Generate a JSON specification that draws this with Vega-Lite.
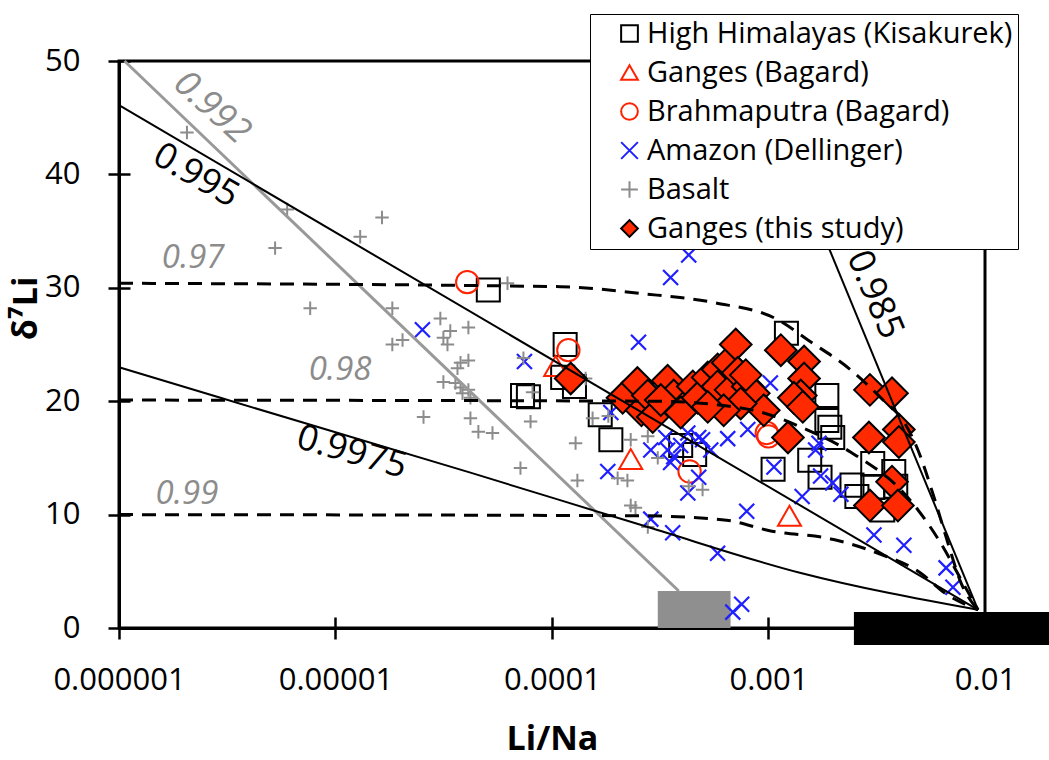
{
  "$schema": "https://vega.github.io/schema/vega-lite/v6.json",
  "width": 866,
  "height": 567,
  "autosize": "none",
  "padding": {"left": 119, "top": 61, "right": 64, "bottom": 132},
  "background": "white",
  "config": {
    "font": "Open Sans",
    "view": {"stroke": "black", "strokeWidth": 3},
    "axis": {
      "domainColor": "black", "domainWidth": 3, "tickColor": "black", "tickWidth": 2.5,
      "labelColor": "black", "titleColor": "black", "grid": false,
      "labelFont": "Open Sans", "labelFontSize": 31, "titleFont": "Open Sans",
      "titleFontSize": 34, "titleFontWeight": "bold", "labelFlush": false, "labelOverlap": false
    }
  },
  "datasets": {
    "pts": [
      {"s": "High Himalayas (Kisakurek)", "x": 5.08e-5, "y": 29.8},
      {"s": "High Himalayas (Kisakurek)", "x": 1.15e-4, "y": 25.0},
      {"s": "High Himalayas (Kisakurek)", "x": 1.12e-4, "y": 22.1},
      {"s": "High Himalayas (Kisakurek)", "x": 1.27e-4, "y": 21.3},
      {"s": "High Himalayas (Kisakurek)", "x": 7.78e-5, "y": 20.4},
      {"s": "High Himalayas (Kisakurek)", "x": 7.31e-5, "y": 20.5},
      {"s": "High Himalayas (Kisakurek)", "x": 1.67e-4, "y": 18.8},
      {"s": "High Himalayas (Kisakurek)", "x": 1.87e-4, "y": 16.6},
      {"s": "High Himalayas (Kisakurek)", "x": 3.93e-4, "y": 16.1},
      {"s": "High Himalayas (Kisakurek)", "x": 4.56e-4, "y": 15.3},
      {"s": "High Himalayas (Kisakurek)", "x": 1.05e-3, "y": 14.0},
      {"s": "High Himalayas (Kisakurek)", "x": 1.21e-3, "y": 26.0},
      {"s": "High Himalayas (Kisakurek)", "x": 1.86e-3, "y": 20.5},
      {"s": "High Himalayas (Kisakurek)", "x": 1.86e-3, "y": 18.3},
      {"s": "High Himalayas (Kisakurek)", "x": 1.92e-3, "y": 17.7},
      {"s": "High Himalayas (Kisakurek)", "x": 1.98e-3, "y": 16.8},
      {"s": "High Himalayas (Kisakurek)", "x": 1.55e-3, "y": 14.8},
      {"s": "High Himalayas (Kisakurek)", "x": 1.73e-3, "y": 13.3},
      {"s": "High Himalayas (Kisakurek)", "x": 2.43e-3, "y": 12.6},
      {"s": "High Himalayas (Kisakurek)", "x": 2.56e-3, "y": 11.6},
      {"s": "High Himalayas (Kisakurek)", "x": 3.03e-3, "y": 14.5},
      {"s": "High Himalayas (Kisakurek)", "x": 3.79e-3, "y": 13.8},
      {"s": "High Himalayas (Kisakurek)", "x": 3.03e-3, "y": 12.4},
      {"s": "High Himalayas (Kisakurek)", "x": 3.37e-3, "y": 10.4},
      {"s": "High Himalayas (Kisakurek)", "x": 3.87e-3, "y": 12.5},
      {"s": "Ganges (Bagard)", "x": 1.04e-4, "y": 23.1},
      {"s": "Ganges (Bagard)", "x": 2.31e-4, "y": 14.9},
      {"s": "Ganges (Bagard)", "x": 1.25e-3, "y": 9.9},
      {"s": "Brahmaputra (Bagard)", "x": 4.06e-5, "y": 30.5},
      {"s": "Brahmaputra (Bagard)", "x": 1.19e-4, "y": 24.5},
      {"s": "Brahmaputra (Bagard)", "x": 4.32e-4, "y": 13.8},
      {"s": "Brahmaputra (Bagard)", "x": 9.82e-4, "y": 17.2},
      {"s": "Brahmaputra (Bagard)", "x": 1.0e-3, "y": 16.9},
      {"s": "Amazon (Dellinger)", "x": 2.52e-5, "y": 26.3},
      {"s": "Amazon (Dellinger)", "x": 7.46e-5, "y": 23.5},
      {"s": "Amazon (Dellinger)", "x": 2.51e-4, "y": 25.2},
      {"s": "Amazon (Dellinger)", "x": 3.53e-4, "y": 30.9},
      {"s": "Amazon (Dellinger)", "x": 4.28e-4, "y": 32.9},
      {"s": "Amazon (Dellinger)", "x": 1.87e-4, "y": 19.0},
      {"s": "Amazon (Dellinger)", "x": 1.81e-4, "y": 13.8},
      {"s": "Amazon (Dellinger)", "x": 2.86e-4, "y": 15.7},
      {"s": "Amazon (Dellinger)", "x": 3.35e-4, "y": 16.8},
      {"s": "Amazon (Dellinger)", "x": 3.42e-4, "y": 15.7},
      {"s": "Amazon (Dellinger)", "x": 3.65e-4, "y": 15.1},
      {"s": "Amazon (Dellinger)", "x": 3.93e-4, "y": 16.1},
      {"s": "Amazon (Dellinger)", "x": 3.53e-4, "y": 14.6},
      {"s": "Amazon (Dellinger)", "x": 4.24e-4, "y": 17.2},
      {"s": "Amazon (Dellinger)", "x": 4.76e-4, "y": 16.8},
      {"s": "Amazon (Dellinger)", "x": 4.96e-4, "y": 16.6},
      {"s": "Amazon (Dellinger)", "x": 5.41e-4, "y": 15.7},
      {"s": "Amazon (Dellinger)", "x": 6.48e-4, "y": 16.7},
      {"s": "Amazon (Dellinger)", "x": 8.02e-4, "y": 17.5},
      {"s": "Amazon (Dellinger)", "x": 1.02e-3, "y": 21.6},
      {"s": "Amazon (Dellinger)", "x": 1.06e-3, "y": 14.2},
      {"s": "Amazon (Dellinger)", "x": 4.76e-4, "y": 13.3},
      {"s": "Amazon (Dellinger)", "x": 4.24e-4, "y": 11.9},
      {"s": "Amazon (Dellinger)", "x": 2.86e-4, "y": 9.6},
      {"s": "Amazon (Dellinger)", "x": 3.61e-4, "y": 8.4},
      {"s": "Amazon (Dellinger)", "x": 5.82e-4, "y": 6.6},
      {"s": "Amazon (Dellinger)", "x": 7.93e-4, "y": 10.3},
      {"s": "Amazon (Dellinger)", "x": 6.84e-4, "y": 1.4},
      {"s": "Amazon (Dellinger)", "x": 7.52e-4, "y": 2.1},
      {"s": "Amazon (Dellinger)", "x": 1.65e-3, "y": 15.7},
      {"s": "Amazon (Dellinger)", "x": 1.71e-3, "y": 16.3},
      {"s": "Amazon (Dellinger)", "x": 1.74e-3, "y": 13.4},
      {"s": "Amazon (Dellinger)", "x": 1.98e-3, "y": 12.8},
      {"s": "Amazon (Dellinger)", "x": 2.16e-3, "y": 11.8},
      {"s": "Amazon (Dellinger)", "x": 1.43e-3, "y": 11.6},
      {"s": "Amazon (Dellinger)", "x": 3.07e-3, "y": 8.2},
      {"s": "Amazon (Dellinger)", "x": 4.22e-3, "y": 7.3},
      {"s": "Amazon (Dellinger)", "x": 6.61e-3, "y": 5.3},
      {"s": "Amazon (Dellinger)", "x": 7.11e-3, "y": 3.6},
      {"s": "Basalt", "x": 2.06e-6, "y": 43.7},
      {"s": "Basalt", "x": 5.98e-6, "y": 36.9},
      {"s": "Basalt", "x": 1.64e-5, "y": 36.2},
      {"s": "Basalt", "x": 1.30e-5, "y": 34.5},
      {"s": "Basalt", "x": 5.26e-6, "y": 33.5},
      {"s": "Basalt", "x": 7.64e-6, "y": 28.2},
      {"s": "Basalt", "x": 1.83e-5, "y": 28.2},
      {"s": "Basalt", "x": 3.05e-5, "y": 27.3},
      {"s": "Basalt", "x": 3.39e-5, "y": 26.2},
      {"s": "Basalt", "x": 3.15e-5, "y": 25.6},
      {"s": "Basalt", "x": 3.29e-5, "y": 25.0},
      {"s": "Basalt", "x": 4.11e-5, "y": 26.5},
      {"s": "Basalt", "x": 1.83e-5, "y": 25.0},
      {"s": "Basalt", "x": 2.04e-5, "y": 25.4},
      {"s": "Basalt", "x": 3.78e-5, "y": 23.4},
      {"s": "Basalt", "x": 4.11e-5, "y": 23.6},
      {"s": "Basalt", "x": 3.66e-5, "y": 22.9},
      {"s": "Basalt", "x": 3.15e-5, "y": 21.7},
      {"s": "Basalt", "x": 3.58e-5, "y": 21.6},
      {"s": "Basalt", "x": 3.78e-5, "y": 21.2},
      {"s": "Basalt", "x": 4.11e-5, "y": 21.0},
      {"s": "Basalt", "x": 3.86e-5, "y": 20.7},
      {"s": "Basalt", "x": 4.20e-5, "y": 20.3},
      {"s": "Basalt", "x": 2.55e-5, "y": 18.6},
      {"s": "Basalt", "x": 4.20e-5, "y": 18.5},
      {"s": "Basalt", "x": 4.57e-5, "y": 17.3},
      {"s": "Basalt", "x": 5.31e-5, "y": 17.2},
      {"s": "Basalt", "x": 6.23e-5, "y": 30.4},
      {"s": "Basalt", "x": 7.96e-5, "y": 18.2},
      {"s": "Basalt", "x": 7.15e-5, "y": 14.1},
      {"s": "Basalt", "x": 8.13e-5, "y": 20.8},
      {"s": "Basalt", "x": 1.285e-4, "y": 16.3},
      {"s": "Basalt", "x": 1.31e-4, "y": 13.0},
      {"s": "Basalt", "x": 1.43e-4, "y": 22.0},
      {"s": "Basalt", "x": 1.26e-4, "y": 21.4},
      {"s": "Basalt", "x": 1.54e-4, "y": 18.5},
      {"s": "Basalt", "x": 1.90e-4, "y": 20.3},
      {"s": "Basalt", "x": 2.31e-4, "y": 16.6},
      {"s": "Basalt", "x": 2.01e-4, "y": 13.2},
      {"s": "Basalt", "x": 2.23e-4, "y": 13.0},
      {"s": "Basalt", "x": 2.31e-4, "y": 10.8},
      {"s": "Basalt", "x": 2.43e-4, "y": 10.6},
      {"s": "Basalt", "x": 2.77e-4, "y": 8.9},
      {"s": "Basalt", "x": 2.77e-4, "y": 16.9},
      {"s": "Basalt", "x": 3.08e-4, "y": 15.0},
      {"s": "Basalt", "x": 4.28e-4, "y": 12.5},
      {"s": "Basalt", "x": 4.96e-4, "y": 12.2},
      {"s": "Basalt", "x": 7.38e-5, "y": 23.8},
      {"s": "Basalt", "x": 1.82e-4, "y": 18.7},
      {"s": "Ganges (this study)", "x": 1.22e-4, "y": 22.0},
      {"s": "Ganges (this study)", "x": 2.12e-4, "y": 20.3},
      {"s": "Ganges (this study)", "x": 2.48e-4, "y": 21.6},
      {"s": "Ganges (this study)", "x": 2.59e-4, "y": 19.2},
      {"s": "Ganges (this study)", "x": 2.77e-4, "y": 20.5},
      {"s": "Ganges (this study)", "x": 2.92e-4, "y": 18.6},
      {"s": "Ganges (this study)", "x": 3.42e-4, "y": 21.8},
      {"s": "Ganges (this study)", "x": 3.65e-4, "y": 20.5},
      {"s": "Ganges (this study)", "x": 3.18e-4, "y": 20.1},
      {"s": "Ganges (this study)", "x": 4.24e-4, "y": 19.8},
      {"s": "Ganges (this study)", "x": 4.47e-4, "y": 21.3},
      {"s": "Ganges (this study)", "x": 4.71e-4, "y": 20.3},
      {"s": "Ganges (this study)", "x": 5.24e-4, "y": 22.1},
      {"s": "Ganges (this study)", "x": 5.82e-4, "y": 22.8},
      {"s": "Ganges (this study)", "x": 6.48e-4, "y": 23.4},
      {"s": "Ganges (this study)", "x": 7.06e-4, "y": 25.0},
      {"s": "Ganges (this study)", "x": 5.82e-4, "y": 21.3},
      {"s": "Ganges (this study)", "x": 6.68e-4, "y": 21.0},
      {"s": "Ganges (this study)", "x": 7.21e-4, "y": 22.5},
      {"s": "Ganges (this study)", "x": 8.02e-4, "y": 21.3},
      {"s": "Ganges (this study)", "x": 8.55e-4, "y": 20.7},
      {"s": "Ganges (this study)", "x": 9.51e-4, "y": 19.2},
      {"s": "Ganges (this study)", "x": 7.44e-4, "y": 19.8},
      {"s": "Ganges (this study)", "x": 6.21e-4, "y": 19.2},
      {"s": "Ganges (this study)", "x": 5.24e-4, "y": 19.5},
      {"s": "Ganges (this study)", "x": 3.93e-4, "y": 19.0},
      {"s": "Ganges (this study)", "x": 7.85e-4, "y": 22.3},
      {"s": "Ganges (this study)", "x": 1.14e-3, "y": 24.5},
      {"s": "Ganges (this study)", "x": 1.46e-3, "y": 23.5},
      {"s": "Ganges (this study)", "x": 1.46e-3, "y": 22.0},
      {"s": "Ganges (this study)", "x": 1.41e-3, "y": 20.5},
      {"s": "Ganges (this study)", "x": 1.31e-3, "y": 20.3},
      {"s": "Ganges (this study)", "x": 1.44e-3, "y": 19.5},
      {"s": "Ganges (this study)", "x": 1.23e-3, "y": 16.8},
      {"s": "Ganges (this study)", "x": 2.94e-3, "y": 21.0},
      {"s": "Ganges (this study)", "x": 3.72e-3, "y": 20.7},
      {"s": "Ganges (this study)", "x": 2.91e-3, "y": 16.8},
      {"s": "Ganges (this study)", "x": 4.00e-3, "y": 17.5},
      {"s": "Ganges (this study)", "x": 4.00e-3, "y": 16.4},
      {"s": "Ganges (this study)", "x": 3.72e-3, "y": 12.9},
      {"s": "Ganges (this study)", "x": 2.94e-3, "y": 10.8},
      {"s": "Ganges (this study)", "x": 3.96e-3, "y": 10.8}
    ],
    "lines": [
      {"g": "l992", "o": 1, "x": 1.06e-6, "y": 50},
      {"g": "l992", "o": 2, "x": 3.85e-4, "y": 3.26},
      {"g": "l995", "o": 1, "x": 1e-6, "y": 46.1},
      {"g": "l995", "o": 2, "x": 9.29e-3, "y": 1.6},
      {"g": "l9975", "o": 1, "x": 1e-6, "y": 23.0},
      {"g": "l9975", "o": 2, "x": 2.94e-6, "y": 20.3},
      {"g": "l9975", "o": 3, "x": 4.2e-5, "y": 13.7},
      {"g": "l9975", "o": 4, "x": 2.77e-4, "y": 8.9},
      {"g": "l9975", "o": 5, "x": 1.41e-3, "y": 4.85},
      {"g": "l9975", "o": 6, "x": 9.29e-3, "y": 1.6},
      {"g": "l985", "o": 1, "x": 8.37e-4, "y": 50},
      {"g": "l985", "o": 2, "x": 9.29e-3, "y": 1.6},
      {"g": "c97", "o": 1, "x": 1e-6, "y": 30.4},
      {"g": "c97", "o": 2, "x": 1.1e-4, "y": 30.1},
      {"g": "c97", "o": 3, "x": 2.56e-4, "y": 29.5},
      {"g": "c97", "o": 4, "x": 5.58e-4, "y": 28.7},
      {"g": "c97", "o": 5, "x": 1.1e-3, "y": 27.2},
      {"g": "c97", "o": 6, "x": 1.52e-3, "y": 25.4},
      {"g": "c97", "o": 7, "x": 2.4e-3, "y": 22.75},
      {"g": "c97", "o": 8, "x": 3.3e-3, "y": 20.3},
      {"g": "c97", "o": 9, "x": 4.31e-3, "y": 17.9},
      {"g": "c97", "o": 10, "x": 4.9e-3, "y": 15.7},
      {"g": "c97", "o": 11, "x": 5.81e-3, "y": 11.55},
      {"g": "c97", "o": 12, "x": 6.74e-3, "y": 7.5},
      {"g": "c97", "o": 13, "x": 7.74e-3, "y": 4.0},
      {"g": "c97", "o": 14, "x": 9.29e-3, "y": 1.6},
      {"g": "c98", "o": 1, "x": 1e-6, "y": 20.1},
      {"g": "c98", "o": 2, "x": 3e-4, "y": 20.0},
      {"g": "c98", "o": 3, "x": 8e-4, "y": 19.3},
      {"g": "c98", "o": 4, "x": 1.5e-3, "y": 17.5},
      {"g": "c98", "o": 5, "x": 2.4e-3, "y": 15.5},
      {"g": "c98", "o": 6, "x": 4.5e-3, "y": 11.3},
      {"g": "c98", "o": 7, "x": 6.1e-3, "y": 7.8},
      {"g": "c98", "o": 8, "x": 8e-3, "y": 3.8},
      {"g": "c98", "o": 9, "x": 9.29e-3, "y": 1.6},
      {"g": "c99", "o": 1, "x": 1e-6, "y": 10.0},
      {"g": "c99", "o": 2, "x": 2.5e-4, "y": 9.9},
      {"g": "c99", "o": 3, "x": 6.4e-4, "y": 9.5},
      {"g": "c99", "o": 4, "x": 1.0e-3, "y": 8.6},
      {"g": "c99", "o": 5, "x": 2e-3, "y": 7.8},
      {"g": "c99", "o": 6, "x": 3.3e-3, "y": 6.5},
      {"g": "c99", "o": 7, "x": 5e-3, "y": 4.9},
      {"g": "c99", "o": 8, "x": 6.5e-3, "y": 3.1},
      {"g": "c99", "o": 9, "x": 9.29e-3, "y": 1.6}
    ],
    "labels": [
      {"k": "gray", "t": "0.97", "x": 2.20e-6, "y": 32.6},
      {"k": "gray", "t": "0.98", "x": 1.05e-5, "y": 22.75},
      {"k": "gray", "t": "0.99", "x": 2.06e-6, "y": 11.8},
      {"k": "g992", "t": "0.992", "x": 2.69e-6, "y": 45.9},
      {"k": "b995", "t": "0.995", "x": 2.27e-6, "y": 39.9},
      {"k": "b9975", "t": "0.9975", "x": 1.19e-5, "y": 15.5},
      {"k": "b985", "t": "0.985", "x": 3.1e-3, "y": 29.4}
    ]
  },
  "resolve": {"axis": {"x": "independent", "y": "independent"}},
  "layer": [
    {
      "data": {"values": [{"x": 3.08e-4, "x2": 6.68e-4, "y": 0, "y2": 3.26}]},
      "mark": {"type": "rect", "color": "#8f8f8f"},
      "encoding": {
        "x": {"field": "x", "type": "quantitative", "scale": {"type": "log", "domain": [1e-6, 1e-2], "nice": false},
              "axis": {"orient": "bottom", "values": [1e-6, 1e-5, 1e-4, 1e-3, 1e-2], "tickSize": -11, "labels": false, "domain": false, "title": null}},
        "x2": {"field": "x2"},
        "y": {"field": "y", "type": "quantitative", "scale": {"domain": [0, 50], "nice": false, "zero": false},
              "axis": {"orient": "left", "values": [0, 10, 20, 30, 40, 50], "tickSize": -11, "labels": false, "domain": false, "title": null}},
        "y2": {"field": "y2"}
      }
    },
    {
      "data": {"values": [{"x": 2.48e-3, "x2": 2.02e-2, "y": -1.5, "y2": 1.41}]},
      "mark": {"type": "rect", "color": "black", "clip": false},
      "encoding": {
        "x": {"field": "x", "type": "quantitative", "axis": null},
        "x2": {"field": "x2"},
        "y": {"field": "y", "type": "quantitative", "axis": null},
        "y2": {"field": "y2"}
      }
    },
    {
      "data": {"name": "pts"},
      "encoding": {
        "x": {"field": "x", "type": "quantitative",
              "axis": {"orient": "bottom", "values": [1e-6, 1e-5, 1e-4, 1e-3, 1e-2], "format": ".6~f", "tickSize": 11, "labelPadding": 26,
                       "title": "Li/Na", "titleX": 433, "titleY": 121, "titleBaseline": "alphabetic", "titleAlign": "center"}},
        "y": {"field": "y", "type": "quantitative",
              "axis": {"orient": "left", "values": [0, 10, 20, 30, 40, 50], "tickSize": 11, "labelPadding": 28,
                       "title": "δ⁷Li", "titleAngle": 270, "titleX": -93, "titleY": 247, "titleAlign": "center", "titleBaseline": "middle"}},
        "shape": {"field": "s", "type": "nominal",
                  "scale": {"domain": ["High Himalayas (Kisakurek)", "Ganges (Bagard)", "Brahmaputra (Bagard)", "Amazon (Dellinger)", "Basalt", "Ganges (this study)"],
                            "range": ["square", "triangle-up", "circle", "M-1,-1L1,1M-1,1L1,-1", "M-1,0L1,0M0,-1L0,1", "diamond"]},
                  "legend": {"title": null, "orient": "none", "legendX": 471, "legendY": -47}},
        "fill": {"field": "s", "type": "nominal",
                 "scale": {"domain": ["High Himalayas (Kisakurek)", "Ganges (Bagard)", "Brahmaputra (Bagard)", "Amazon (Dellinger)", "Basalt", "Ganges (this study)"],
                           "range": ["transparent", "transparent", "transparent", "transparent", "transparent", "#ff2a00"]},
                 "legend": {"title": null, "orient": "none", "legendX": 471, "legendY": -47}},
        "stroke": {"field": "s", "type": "nominal",
                   "scale": {"domain": ["High Himalayas (Kisakurek)", "Ganges (Bagard)", "Brahmaputra (Bagard)", "Amazon (Dellinger)", "Basalt", "Ganges (this study)"],
                             "range": ["#000000", "#ff2200", "#ff2200", "#1f1fff", "#8c8c8c", "#000000"]},
                   "legend": {"title": null, "orient": "none", "legendX": 471, "legendY": -47,
                              "padding": 5, "fillColor": "white", "strokeColor": "black",
                              "labelFont": "Open Sans", "labelFontSize": 29, "labelColor": "black", "labelLimit": 600,
                              "symbolSize": 280, "symbolStrokeWidth": 2, "rowPadding": 9, "labelOffset": 3, "symbolOffset": 20,
                              "encode": {"legend": {"update": {"strokeWidth": {"value": 2}}}}}}
      },
      "layer": [
        {"transform": [{"filter": "datum.s == 'High Himalayas (Kisakurek)'"}], "mark": {"type": "point", "opacity": 1, "strokeWidth": 2, "size": 530}},
        {"transform": [{"filter": "datum.s == 'Ganges (Bagard)'"}], "mark": {"type": "point", "opacity": 1, "strokeWidth": 2, "size": 530}},
        {"transform": [{"filter": "datum.s == 'Brahmaputra (Bagard)'"}], "mark": {"type": "point", "opacity": 1, "strokeWidth": 2, "size": 500}},
        {"transform": [{"filter": "datum.s == 'Amazon (Dellinger)'"}], "mark": {"type": "point", "opacity": 1, "strokeWidth": 2.2, "size": 225}},
        {"transform": [{"filter": "datum.s == 'Basalt'"}], "mark": {"type": "point", "opacity": 1, "strokeWidth": 2, "size": 180}},
        {"transform": [{"filter": "datum.s == 'Ganges (this study)'"}], "mark": {"type": "point", "opacity": 1, "strokeWidth": 2, "size": 1000}}
      ]
    },
    {
      "data": {"name": "lines"},
      "transform": [{"filter": "datum.g == 'l992'"}],
      "mark": {"type": "line", "color": "#999999", "strokeWidth": 3},
      "encoding": {
        "x": {"field": "x", "type": "quantitative", "axis": null},
        "y": {"field": "y", "type": "quantitative", "axis": null},
        "order": {"field": "o"}
      }
    },
    {
      "data": {"name": "lines"},
      "transform": [{"filter": "datum.g == 'l995' || datum.g == 'l9975' || datum.g == 'l985'"}],
      "mark": {"type": "line", "color": "black", "strokeWidth": 2, "interpolate": "monotone"},
      "encoding": {
        "x": {"field": "x", "type": "quantitative", "axis": null},
        "y": {"field": "y", "type": "quantitative", "axis": null},
        "detail": {"field": "g"},
        "order": {"field": "o"}
      }
    },
    {
      "data": {"name": "lines"},
      "transform": [{"filter": "datum.g == 'c97' || datum.g == 'c98' || datum.g == 'c99'"}],
      "mark": {"type": "line", "color": "black", "strokeWidth": 3, "strokeDash": [14, 9], "interpolate": "monotone"},
      "encoding": {
        "x": {"field": "x", "type": "quantitative", "axis": null},
        "y": {"field": "y", "type": "quantitative", "axis": null},
        "detail": {"field": "g"},
        "order": {"field": "o"}
      }
    },
    {
      "data": {"name": "labels"},
      "transform": [{"filter": "datum.k == 'gray'"}],
      "mark": {"type": "text", "font": "Open Sans", "fontSize": 33, "fontStyle": "italic", "color": "#8c8c8c", "align": "center", "baseline": "middle"},
      "encoding": {
        "x": {"field": "x", "type": "quantitative", "axis": null},
        "y": {"field": "y", "type": "quantitative", "axis": null},
        "text": {"field": "t"}
      }
    },
    {
      "data": {"name": "labels"},
      "transform": [{"filter": "datum.k == 'g992'"}],
      "mark": {"type": "text", "font": "Open Sans", "fontSize": 36, "fontStyle": "italic", "color": "#8c8c8c", "align": "center", "baseline": "middle", "angle": 42},
      "encoding": {
        "x": {"field": "x", "type": "quantitative", "axis": null},
        "y": {"field": "y", "type": "quantitative", "axis": null},
        "text": {"field": "t"}
      }
    },
    {
      "data": {"name": "labels"},
      "transform": [{"filter": "datum.k == 'b995'"}],
      "mark": {"type": "text", "font": "Open Sans", "fontSize": 36, "color": "black", "align": "center", "baseline": "middle", "angle": 30},
      "encoding": {
        "x": {"field": "x", "type": "quantitative", "axis": null},
        "y": {"field": "y", "type": "quantitative", "axis": null},
        "text": {"field": "t"}
      }
    },
    {
      "data": {"name": "labels"},
      "transform": [{"filter": "datum.k == 'b9975'"}],
      "mark": {"type": "text", "font": "Open Sans", "fontSize": 36, "color": "black", "align": "center", "baseline": "middle", "angle": 16},
      "encoding": {
        "x": {"field": "x", "type": "quantitative", "axis": null},
        "y": {"field": "y", "type": "quantitative", "axis": null},
        "text": {"field": "t"}
      }
    },
    {
      "data": {"name": "labels"},
      "transform": [{"filter": "datum.k == 'b985'"}],
      "mark": {"type": "text", "font": "Open Sans", "fontSize": 36, "color": "black", "align": "center", "baseline": "middle", "angle": 67},
      "encoding": {
        "x": {"field": "x", "type": "quantitative", "axis": null},
        "y": {"field": "y", "type": "quantitative", "axis": null},
        "text": {"field": "t"}
      }
    }
  ]
}
